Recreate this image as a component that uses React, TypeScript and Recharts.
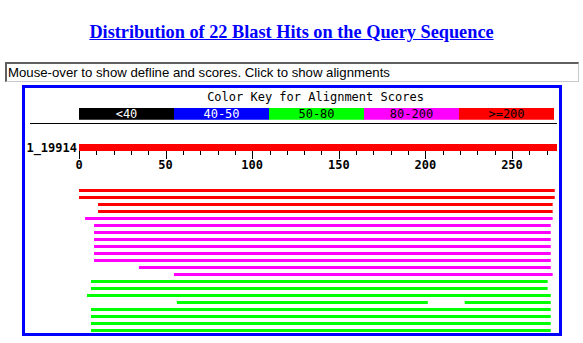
import React from "react";
import { BarChart, Bar, XAxis, YAxis, Cell, Rectangle } from "recharts";

// score classes for the colour key
const keyLabels = ["<40", "40-50", "50-80", "80-200", ">=200"];
const keyColors = ["#000000", "#0000FF", "#00FF00", "#FF00FF", "#FF0000"];
const keyTextColors = ["#FFFFFF", "#FFFFFF", "#000000", "#000000", "#000000"];

// query sequence
const queryName = "1_19914";
const queryLength = 276;
const axisTicks = [0, 10, 20, 30, 40, 50, 60, 70, 80, 90, 100, 110, 120, 130, 140, 150, 160, 170, 180, 190, 200, 210, 220, 230, 240, 250, 260, 270];

// hits, one row each (start / end on the query, score class index into keyColors)
const hitStart = [0, 0, 11, 11, 3.5, 8.7, 8.7, 8.7, 8.7, 8.7, 8.7, 34.6, 54.8, 6.9, 6.9, 4.6, 56.5, 6.9, 6.9, 6.9, 6.9];
const hitEnd = [274.7, 274.7, 273.5, 273.5, 273.5, 272.4, 272.4, 272.4, 272.4, 272.4, 272.4, 272.4, 273.5, 270.6, 270.6, 272.4, 201.4, 272.4, 272.4, 272.4, 272.4];
const hitClass = [4, 4, 4, 4, 3, 3, 3, 3, 3, 3, 3, 3, 3, 2, 2, 2, 2, 2, 2, 2, 2];
// second HSP on the same row
const extraSegments = [{ row: 16, start: 222.7, end: 272.4 }];

const mono = "'DejaVu Sans Mono', monospace";

const keyData = [
  keyLabels.reduce((acc: any, label, i) => {
    acc["k" + i] = 1;
    return acc;
  }, { name: "key" }),
];

const queryData = [{ name: queryName, range: [0, queryLength] }];

const hitData = hitStart.map((s, i) => {
  const extra = extraSegments.find((e) => e.row === i);
  return {
    row: "hit" + i,
    seg1: [s, hitEnd[i]],
    seg2: extra ? [extra.start, extra.end] : null,
    color: keyColors[hitClass[i]],
  };
});

const AxisTick = (props: any) => {
  const { x, y, payload } = props;
  const major = payload.value % 50 === 0;
  const px = Math.round(x) + 0.5;
  return (
    <g>
      <line x1={px} x2={px} y1={y} y2={y + (major ? 8 : 4)} stroke="#000" strokeWidth={1} shapeRendering="crispEdges" />
      {major && (
        <text x={x} y={y + 17.5} textAnchor="middle" fontFamily={mono} fontSize={12} fontWeight="bold" fill="#000">
          {payload.value}
        </text>
      )}
    </g>
  );
};

const QueryLabel = (props: any) => {
  const { x, y, payload } = props;
  return (
    <text x={x} y={y + 4} textAnchor="end" fontFamily={mono} fontSize={12} fontWeight="bold" fill="#000">
      {payload.value}
    </text>
  );
};

const keyShape = (i: number) => (p: any) => (
  <g>
    <Rectangle x={p.x} y={p.y} width={p.width} height={p.height} fill={keyColors[i]} />
    <text x={p.x + p.width / 2} y={p.y + p.height / 2 + 4} textAnchor="middle" fontFamily={mono} fontSize={12} fill={keyTextColors[i]}>
      {keyLabels[i]}
    </text>
  </g>
);

export default function App() {
  return (
    <div style={{ position: "absolute", left: 0, top: 0, width: 583, height: 343, background: "#fff", overflow: "hidden" }}>
      <div
        style={{
          position: "absolute",
          left: 0,
          top: 22,
          width: 583,
          textAlign: "center",
          fontFamily: "'Liberation Serif', serif",
          fontWeight: "bold",
          fontSize: 18.3,
          color: "#0000FF",
          textDecoration: "underline",
          lineHeight: "20px",
        }}
      >
        Distribution of 22 Blast Hits on the Query Sequence
      </div>
      <div
        style={{
          position: "absolute",
          left: 5,
          top: 62,
          width: 570,
          height: 17,
          borderTop: "2px solid #606060",
          borderLeft: "2px solid #606060",
          borderBottom: "1px solid #c8c8c8",
          borderRight: "1px solid #c8c8c8",
          fontFamily: "'Liberation Sans', Arial, sans-serif",
          fontSize: 13.2,
          lineHeight: "17px",
          paddingLeft: 1,
          color: "#000",
          whiteSpace: "nowrap",
        }}
      >
        Mouse-over to show defline and scores. Click to show alignments
      </div>
      <div
        style={{
          position: "absolute",
          left: 22,
          top: 85,
          width: 534,
          height: 245,
          border: "3px solid #0000FF",
        }}
      />
      <div
        style={{
          position: "absolute",
          left: 0,
          top: 90,
          width: 631,
          textAlign: "center",
          fontFamily: mono,
          fontSize: 12,
          lineHeight: "14px",
          color: "#000",
        }}
      >
        Color Key for Alignment Scores
      </div>
      <div style={{ position: "absolute", left: 79, top: 103 }}>
        <BarChart width={475} height={21} data={keyData} layout="vertical" barCategoryGap={0} margin={{ top: 4, right: 0, bottom: 4, left: 0 }}>
          <XAxis type="number" hide domain={[0, keyLabels.length]} />
          <YAxis type="category" dataKey="name" hide />
          {keyLabels.map((label, i) => (
            <Bar key={label} dataKey={"k" + i} stackId="key" barSize={13} fill={keyColors[i]} shape={keyShape(i)} isAnimationActive={false} />
          ))}
        </BarChart>
      </div>
      <div style={{ position: "absolute", left: 30, top: 123, width: 527, height: 1, background: "#000" }} />
      <div style={{ position: "absolute", left: 22, top: 134 }}>
        <BarChart width={535} height={44} data={queryData} layout="vertical" barCategoryGap={0} margin={{ top: 10, right: 0, bottom: 0, left: 0 }}>
          <XAxis
            type="number"
            domain={[0, queryLength]}
            ticks={axisTicks}
            interval={0}
            axisLine={false}
            tickLine={false}
            tickSize={0}
            tickMargin={0}
            height={27}
            tick={<AxisTick />}
          />
          <YAxis
            type="category"
            dataKey="name"
            width={57}
            interval={0}
            axisLine={false}
            tickLine={false}
            tickSize={0}
            tickMargin={2}
            tick={<QueryLabel />}
          />
          <Bar dataKey="range" fill="#FF0000" isAnimationActive={false} />
        </BarChart>
      </div>
      <div style={{ position: "absolute", left: 79, top: 187 }}>
        <BarChart width={478} height={147} data={hitData} layout="vertical" barGap={-3} barCategoryGap={0} margin={{ top: 0, right: 0, bottom: 0, left: 0 }}>
          <XAxis type="number" hide domain={[0, queryLength]} />
          <YAxis type="category" dataKey="row" hide />
          <Bar dataKey="seg1" barSize={3} isAnimationActive={false}>
            {hitData.map((d) => (
              <Cell key={d.row} fill={d.color} />
            ))}
          </Bar>
          <Bar dataKey="seg2" barSize={3} isAnimationActive={false}>
            {hitData.map((d) => (
              <Cell key={d.row} fill={d.color} />
            ))}
          </Bar>
        </BarChart>
      </div>
    </div>
  );
}
